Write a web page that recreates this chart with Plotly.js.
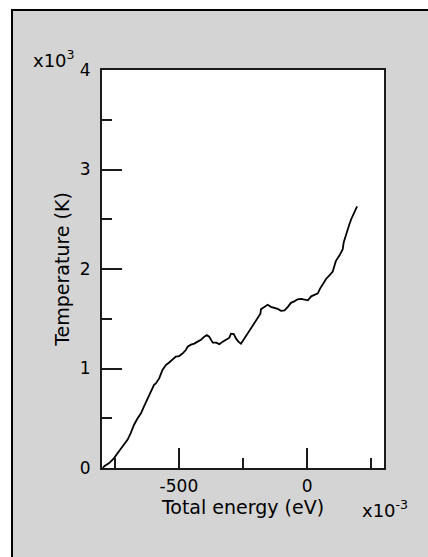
<!DOCTYPE html>
<html>
<head>
<meta charset="utf-8">
<script src="https://cdn.plot.ly/plotly-3.0.1.min.js"></script>
<style>
  html, body { margin: 0; padding: 0; background: #ffffff; width: 428px; height: 557px; overflow: hidden; }
  #frame { position: absolute; left: 11px; top: 9px; width: 430px; height: 560px;
           border-top: 2px solid #000; border-left: 2px solid #000; background: #d4d4d4; }
  #chart { position: absolute; left: 0; top: 0; width: 428px; height: 557px; }
</style>
</head>
<body>
<div id="frame"></div>
<div id="chart"></div>
<script>
// Total energy, in units of 1e-3 eV (as labelled on the axis)
const energy = [
  -797, -790, -772, -753, -733, -714, -700, -688, -675, -661, -648, -636, -622, -609, -597,
  -590, -577, -564, -551, -538, -525, -512, -499, -486, -473, -466, -453, -440, -427, -414,
  -401, -391, -382, -375, -368, -355, -342, -329, -316, -303, -297, -286, -277, -268, -258,
  -245, -232, -219, -206, -193, -182, -180, -167, -154, -141, -128, -115, -102, -88, -75,
  -63, -50, -37, -23, -10, 3, 16, 29, 42, 50, 61, 74, 87, 100, 107,
  113, 126, 139, 143, 152, 159, 165, 172, 178, 185, 195
];
// Temperature, in units of 1e3 K (as labelled on the axis)
const temperature = [
  0.00, 0.02, 0.05, 0.10, 0.17, 0.235, 0.285, 0.35, 0.435, 0.50, 0.55, 0.62, 0.70, 0.77, 0.835,
  0.85, 0.90, 0.985, 1.035, 1.06, 1.09, 1.12, 1.125, 1.15, 1.185, 1.22, 1.24, 1.25, 1.27, 1.29,
  1.32, 1.335, 1.32, 1.285, 1.26, 1.26, 1.245, 1.27, 1.29, 1.31, 1.35, 1.345, 1.30, 1.27, 1.25,
  1.30, 1.35, 1.40, 1.45, 1.50, 1.55, 1.595, 1.62, 1.64, 1.62, 1.61, 1.60, 1.58, 1.585, 1.62,
  1.66, 1.675, 1.695, 1.70, 1.695, 1.685, 1.725, 1.74, 1.755, 1.80, 1.845, 1.90, 1.935, 1.975, 2.035,
  2.085, 2.135, 2.20, 2.27, 2.35, 2.40, 2.45, 2.50, 2.535, 2.585, 2.63
];
const xTickVals = [-500, 0];
const xTickText = ['-500', '0'];
const yTickVals = [0, 1, 2, 3, 4];
const yTickText = ['0', '1', '2', '3', '4'];
const xTitle = 'Total energy (eV)';
const yTitle = 'Temperature (K)';
const xScaleLabel = 'x10<sup>-3</sup>';
const yScaleLabel = 'x10<sup>3</sup>';

const FONT = 'DejaVu Sans, Arial, sans-serif';

const trace = {
  x: energy, y: temperature, type: 'scatter', mode: 'lines',
  line: { color: '#000000', width: 1.8 },
  hoverinfo: 'skip'
};

const layout = {
  width: 428, height: 557,
  paper_bgcolor: 'rgba(0,0,0,0)',
  plot_bgcolor: '#ffffff',
  margin: { l: 102, r: 44, t: 70, b: 89, pad: 0 },
  showlegend: false,
  font: { family: FONT, size: 17, color: '#000000' },
  xaxis: {
    range: [-800, 300], autorange: false,
    showgrid: false, zeroline: false,
    showline: true, linecolor: '#1a1a1a', linewidth: 2, mirror: true,
    ticks: 'inside', ticklen: 20, tickwidth: 2, tickcolor: '#1a1a1a',
    tickmode: 'array', tickvals: xTickVals, ticktext: xTickText,
    minor: { tickmode: 'linear', ticks: 'inside', ticklen: 10, tickwidth: 2, tickcolor: '#1a1a1a', dtick: 250, tick0: 0, showgrid: false },
    tickfont: { family: FONT, size: 17, color: '#000' },
    ticklabelstandoff: 2,
    title: { text: xTitle, font: { family: FONT, size: 19, color: '#000' }, standoff: 4 }
  },
  yaxis: {
    range: [0, 4], autorange: false,
    showgrid: false, zeroline: false,
    showline: true, linecolor: '#1a1a1a', linewidth: 2, mirror: true,
    ticks: 'inside', ticklen: 20, tickwidth: 2, tickcolor: '#1a1a1a',
    tickmode: 'array', tickvals: yTickVals, ticktext: yTickText,
    minor: { tickmode: 'linear', ticks: 'inside', ticklen: 10, tickwidth: 2, tickcolor: '#1a1a1a', dtick: 0.5, tick0: 0, showgrid: false },
    tickfont: { family: FONT, size: 17, color: '#000' },
    ticklabelstandoff: 6,
    title: { text: yTitle, font: { family: FONT, size: 19, color: '#000' }, standoff: 5 }
  },
  annotations: [
    { text: yScaleLabel, xref: 'paper', yref: 'paper', x: (77 - 102) / 282, y: (468 - 73) / 398,
      xanchor: 'right', yanchor: 'bottom', showarrow: false,
      font: { family: FONT, size: 18, color: '#000' } },
    { text: xScaleLabel, xref: 'paper', yref: 'paper', x: (360 - 102) / 282, y: (468 - 509) / 398,
      xanchor: 'left', yanchor: 'middle', showarrow: false,
      font: { family: FONT, size: 18, color: '#000' } }
  ]
};

Plotly.newPlot('chart', [trace], layout, { staticPlot: true, displayModeBar: false });
</script>
</body>
</html>
